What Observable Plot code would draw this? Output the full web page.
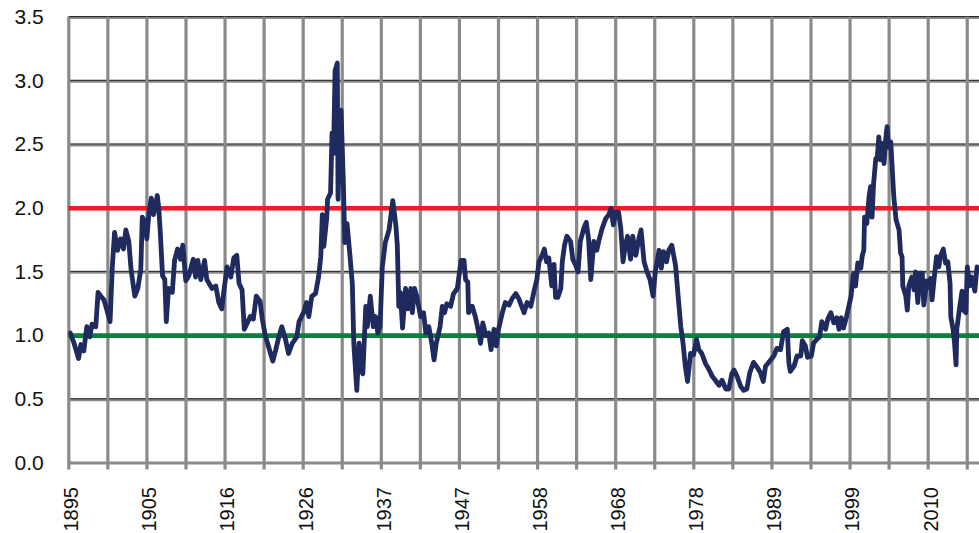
<!DOCTYPE html>
<html>
<head>
<meta charset="utf-8">
<script src="https://cdn.jsdelivr.net/npm/d3@7"></script>
<script src="https://cdn.jsdelivr.net/npm/@observablehq/plot@0.6"></script>
<style>
  html, body { margin: 0; padding: 0; background: #fff; }
  #chart svg { display: block; }
</style>
</head>
<body>
<div id="chart"></div>
<script>
// ---- data ----
const years = [
  1895.2,1895.7,1896.3,1896.6,1897.0,1897.4,1897.8,1898.1,1898.6,1898.9,1899.4,1899.7,1900.5,1900.8,
  1901.1,1901.5,1901.9,1902.3,1902.6,1903.0,1903.3,1903.8,1904.2,1904.6,1904.8,1905.2,1905.4,1905.7,
  1906.0,1906.3,1906.8,1907.0,1907.2,1907.5,1907.8,1908.0,1908.3,1908.8,1909.1,1909.5,1909.9,1910.2,
  1910.6,1911.0,1911.6,1911.9,1912.2,1912.6,1913.1,1913.4,1914.1,1914.6,1915.0,1915.4,1915.7,1916.1,
  1916.6,1917.0,1917.4,1917.7,1918.1,1918.4,1918.8,1919.2,1919.6,1920.0,1920.5,1920.8,1921.2,1921.9,
  1922.2,1922.6,1923.0,1923.4,1923.9,1924.3,1924.8,1925.4,1925.7,1926.3,1926.7,1927.0,1927.4,1927.9,
  1928.3,1928.6,1928.8,1929.0,1929.4,1929.5,1929.9,1930.1,1930.3,1930.5,1930.8,1930.9,1931.1,1931.3,
  1931.6,1931.8,1932.1,1932.5,1932.8,1933.0,1933.4,1933.7,1934.0,1934.2,1934.6,1934.8,1935.2,1935.6,
  1935.9,1936.2,1936.5,1936.8,1937.2,1937.7,1938.2,1938.6,1938.8,1939.0,1939.2,1939.5,1939.9,1940.2,
  1940.6,1940.8,1941.1,1941.4,1941.9,1942.3,1942.6,1943.0,1943.4,1943.7,1944.0,1944.5,1944.8,1945.1,
  1945.4,1945.9,1946.3,1946.8,1947.3,1947.7,1947.9,1948.2,1948.3,1948.8,1949.2,1949.5,1949.9,1950.2,
  1950.6,1951.0,1951.3,1951.7,1952.0,1952.3,1952.8,1953.2,1953.7,1954.1,1954.6,1955.0,1955.7,1956.1,
  1956.6,1957.0,1957.4,1957.7,1958.1,1958.4,1958.7,1959.0,1959.4,1959.7,1959.9,1960.2,1960.6,1960.8,
  1961.1,1961.4,1961.9,1962.2,1962.6,1962.9,1963.2,1963.7,1964.0,1964.3,1964.6,1965.0,1965.4,1965.7,
  1966.1,1966.6,1967.0,1967.3,1967.6,1967.9,1968.3,1968.6,1968.9,1969.2,1969.5,1969.9,1970.2,1970.6,
  1971.0,1971.3,1971.7,1972.1,1972.5,1972.9,1973.2,1973.7,1974.0,1974.3,1974.7,1975.0,1975.4,1975.9,
  1976.2,1976.6,1976.9,1977.2,1977.5,1977.9,1978.3,1978.7,1979.0,1979.4,1979.9,1980.3,1980.8,1981.2,
  1981.7,1982.1,1982.6,1983.0,1983.4,1983.7,1984.1,1984.6,1985.0,1985.4,1985.8,1986.3,1986.8,1987.2,
  1987.6,1987.9,1988.6,1989.0,1989.4,1989.9,1990.3,1990.8,1991.0,1991.2,1991.7,1992.1,1992.6,1992.8,
  1993.2,1993.5,1994.0,1994.3,1994.7,1995.1,1995.4,1995.9,1996.2,1996.6,1997.0,1997.4,1997.7,1998.0,
  1998.3,1998.7,1999.0,1999.3,1999.6,1999.9,2000.2,2000.6,2000.8,2001.0,2001.1,2001.4,2001.7,2001.9,
  2002.1,2002.3,2002.6,2002.8,2003.0,2003.2,2003.4,2003.7,2003.9,2004.1,2004.3,2004.6,2004.8,2005.0,
  2005.3,2005.7,2005.9,2006.1,2006.2,2006.6,2006.8,2007.0,2007.4,2007.7,2007.9,2008.2,2008.5,2008.8,
  2009.0,2009.4,2009.7,2009.9,2010.1,2010.4,2010.7,2011.0,2011.2,2011.6,2011.9,2012.2,2012.5,2012.6,
  2012.9,2013.1,2013.3,2013.4,2013.8,2014.1,2014.3,2014.6,2014.8,2015.1,2015.4,2015.8,2016.1,2016.4
];
const ratio = [
  1.02,0.94,0.82,0.93,0.88,1.07,0.99,1.09,1.07,1.34,1.30,1.28,1.11,1.54,
  1.81,1.67,1.76,1.68,1.83,1.74,1.52,1.31,1.37,1.52,1.93,1.89,1.76,1.97,
  2.08,1.95,2.10,2.00,1.81,1.47,1.44,1.11,1.37,1.34,1.59,1.68,1.60,1.71,
  1.43,1.47,1.60,1.46,1.59,1.44,1.59,1.44,1.37,1.39,1.26,1.21,1.36,1.54,
  1.46,1.61,1.63,1.41,1.36,1.05,1.10,1.15,1.13,1.31,1.27,1.13,1.00,0.86,
  0.80,0.89,0.99,1.07,0.97,0.86,0.94,0.99,1.11,1.18,1.26,1.15,1.31,1.33,
  1.46,1.62,1.95,1.70,1.93,2.07,2.12,2.59,2.43,3.08,3.14,2.07,2.50,2.77,
  2.22,1.73,1.88,1.62,1.41,0.94,0.57,0.94,0.73,0.70,1.23,1.07,1.31,1.07,
  1.15,1.02,1.07,1.54,1.73,1.83,2.06,1.87,1.71,1.23,1.34,1.06,1.37,1.21,
  1.37,1.18,1.37,1.31,1.15,1.18,1.02,1.07,0.94,0.81,0.94,1.07,1.23,1.18,
  1.25,1.23,1.33,1.37,1.59,1.59,1.44,1.42,1.18,1.23,1.15,1.07,0.94,1.10,
  1.00,1.02,0.89,1.05,0.92,1.05,1.18,1.26,1.24,1.29,1.33,1.29,1.18,1.26,
  1.23,1.34,1.44,1.58,1.63,1.68,1.58,1.61,1.39,1.56,1.30,1.30,1.37,1.58,
  1.71,1.78,1.74,1.60,1.55,1.50,1.74,1.85,1.89,1.76,1.44,1.74,1.67,1.75,
  1.84,1.92,1.95,2.00,1.87,1.97,1.97,1.84,1.58,1.71,1.78,1.60,1.78,1.63,
  1.76,1.83,1.58,1.50,1.44,1.31,1.50,1.67,1.53,1.66,1.58,1.67,1.71,1.55,
  1.34,1.07,0.94,0.76,0.64,0.86,0.85,0.97,0.89,0.86,0.78,0.74,0.68,0.65,
  0.61,0.65,0.58,0.58,0.70,0.73,0.68,0.60,0.57,0.58,0.71,0.79,0.75,0.71,
  0.64,0.76,0.81,0.84,0.90,0.89,1.03,1.05,0.79,0.72,0.76,0.84,0.84,0.96,
  0.92,0.83,0.84,0.94,0.97,0.99,1.11,1.05,1.13,1.18,1.10,1.14,1.05,1.14,
  1.06,1.15,1.23,1.31,1.48,1.39,1.57,1.53,1.63,1.67,1.93,1.88,2.09,2.17,
  1.93,2.19,2.39,2.40,2.56,2.38,2.51,2.35,2.53,2.64,2.48,2.52,2.30,2.09,
  1.91,1.83,1.65,1.62,1.39,1.31,1.20,1.39,1.46,1.36,1.50,1.26,1.49,1.49,
  1.24,1.43,1.38,1.45,1.28,1.46,1.62,1.54,1.62,1.68,1.57,1.58,1.41,1.15,
  1.05,0.94,0.77,1.05,1.23,1.35,1.20,1.18,1.54,1.39,1.46,1.35,1.54,1.51
];
const xLabels = ["1895","1905","1916","1926","1937","1947","1958","1968","1978","1989","1999","2010"];
const yTicks = [0, 0.5, 1.0, 1.5, 2.0, 2.5, 3.0, 3.5];
const upperBand = 2.0;
const lowerBand = 1.0;

// ---- derived tables ----
const series = years.map((t, i) => ({t, v: ratio[i]}));
const start = 1895;
const labelStep = 125 / 12;          // spacing of labelled categories (years)
const gridStep = labelStep / 2;      // a gridline between every pair of labels
const labelRows = xLabels.map((s, i) => ({s, t: start + i * labelStep}));
const gridRows = d3.range(0, 24).map(k => start + k * gridStep);
const xEnd = start + (979 - 68.3) / 7.5;

const FONT = "'Liberation Sans', Arial, Helvetica, sans-serif";

const chart = Plot.plot({
  width: 979,
  height: 533,
  marginLeft: 68.3,
  marginRight: 0,
  marginTop: 16.7,
  marginBottom: 70.5,
  style: {fontFamily: FONT, background: "#fff", color: "#111"},
  x: {domain: [start, xEnd], axis: null},
  y: {domain: [0, 3.5], axis: null},
  marks: [
    // horizontal gridlines (gray with a thin dark top edge)
    Plot.ruleY(yTicks.filter(d => d > 0), {stroke: "#8a8a8a", strokeWidth: 2.2, dy: 0.8}),
    Plot.ruleY(yTicks.filter(d => d > 0), {stroke: "#111", strokeWidth: 1, dy: -0.6}),
    // vertical gridlines, extending below as tick marks
    Plot.ruleX(gridRows, {y1: 3.5, y2: 0, stroke: "#8a8a8a", strokeWidth: 3.2, insetBottom: -7}),
    // x axis line
    Plot.ruleY([0], {stroke: "#8a8a8a", strokeWidth: 3.2}),
    // reference bands
    Plot.ruleY([upperBand], {stroke: "#ec1d25", strokeWidth: 4.6}),
    Plot.ruleY([lowerBand], {stroke: "#0c7f3b", strokeWidth: 4.6}),
    // series
    Plot.line(series, {x: "t", y: "v", stroke: "#1f2a5e", strokeWidth: 4.8,
      strokeLinejoin: "round", strokeLinecap: "round", clip: true}),
    // y axis labels
    Plot.axisY(yTicks, {tickSize: 0, tickPadding: 25, fontSize: 21,
      tickFormat: d => d.toFixed(1), fill: "#111", label: null}),
    // x axis labels (rotated)
    Plot.text(labelRows, {x: "t", y: 0, text: "s", rotate: -90, textAnchor: "end",
      dy: 24, dx: 3, fontSize: 20, fill: "#111"})
  ]
});

document.getElementById("chart").appendChild(chart);
</script>
</body>
</html>
